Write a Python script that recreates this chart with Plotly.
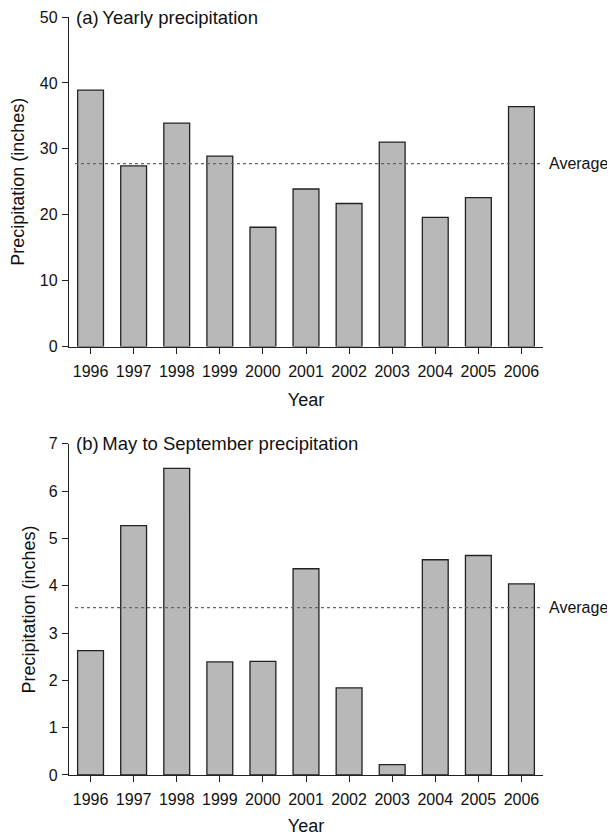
import plotly.graph_objects as go

years = ["1996", "1997", "1998", "1999", "2000", "2001", "2002", "2003", "2004", "2005", "2006"]
yearly = [38.9, 27.4, 33.9, 28.9, 18.1, 23.9, 21.7, 31.0, 19.6, 22.6, 36.4]
may_sep = [2.63, 5.27, 6.48, 2.39, 2.40, 4.36, 1.84, 0.22, 4.55, 4.64, 4.04]
avg_yearly = 27.75
avg_may_sep = 3.54
titles = ["(a)\u2009Yearly precipitation", "(b)\u2009May to September precipitation"]

FONT = "Liberation Sans, Arial, sans-serif"
OFF = 8  # default page body margin
W, H = 615 - OFF, 836 - OFF

# plot-area edges in screen pixels
LEFT, RIGHT = 69, 542.7
TOP1, BOT1 = 17.3, 346.7
TOP2, BOT2 = 444, 775

ml = LEFT - OFF
mr = W - (RIGHT - OFF)
mt = TOP1 - OFF
mb = H - (BOT2 - OFF)
PW = W - ml - mr
PH = H - mt - mb


def px(v):
    return (v - OFF - ml) / PW


def py(v):
    return 1 - (v - OFF - mt) / PH


top_dom = [py(BOT1), 1.0]
bot_dom = [0.0, py(TOP2)]

fig = go.Figure()
bar_style = dict(marker=dict(color="#b8b8b8", line=dict(color="#222222", width=1.3)),
                 width=0.6, showlegend=False, hoverinfo="x+y")
fig.add_trace(go.Bar(x=years, y=yearly, xaxis="x", yaxis="y", **bar_style))
fig.add_trace(go.Bar(x=years, y=may_sep, xaxis="x2", yaxis="y2", **bar_style))

axis_common = dict(showline=True, linecolor="#222222", linewidth=1.3, ticks="outside",
                   ticklen=6, tickwidth=1.2, tickcolor="#222222", showgrid=False,
                   zeroline=False, automargin=False,
                   tickfont=dict(family=FONT, size=16, color="#111111"))

fig.update_layout(
    width=W, height=H, margin=dict(l=ml, r=mr, t=mt, b=mb, pad=0),
    paper_bgcolor="white", plot_bgcolor="white",
    font=dict(family=FONT, color="#111111"),
    xaxis=dict(domain=[0, 1], anchor="y", type="category", range=[-0.5, 10.5],
               ticklabelstandoff=4,
               title=dict(text="Year", font=dict(family=FONT, size=18), standoff=14),
               **axis_common),
    yaxis=dict(domain=top_dom, anchor="x", range=[0, 50], dtick=10,
               ticklabelstandoff=1,
               title=dict(text="Precipitation (inches)", font=dict(family=FONT, size=18), standoff=11),
               **axis_common),
    xaxis2=dict(domain=[0, 1], anchor="y2", type="category", range=[-0.5, 10.5],
                ticklabelstandoff=4,
                title=dict(text="Year", font=dict(family=FONT, size=18), standoff=21),
                **axis_common),
    yaxis2=dict(domain=bot_dom, anchor="x2", range=[0, 7], dtick=1,
                ticklabelstandoff=1,
                title=dict(text="Precipitation (inches)", font=dict(family=FONT, size=18), standoff=8),
                **axis_common),
)

for xr, yr, avg, title, ytop in [("x", "y", avg_yearly, titles[0], TOP1),
                                  ("x2", "y2", avg_may_sep, titles[1], TOP2)]:
    fig.add_shape(type="line", xref=xr, yref=yr, x0=-0.36, x1=10.5, y0=avg, y1=avg,
                  line=dict(color="#666666", width=1.3, dash="dot"), layer="above")
    fig.add_annotation(xref="paper", yref=yr, x=px(547), y=avg, text="Average",
                       showarrow=False, xanchor="left", yanchor="middle",
                       font=dict(family=FONT, size=16, color="#111111"))
    fig.add_annotation(xref="paper", yref="paper", x=px(74), y=py(ytop), text=title,
                       showarrow=False, xanchor="left", yanchor="middle",
                       font=dict(family=FONT, size=18.5, color="#111111"))

fig.write_html("out.html")
